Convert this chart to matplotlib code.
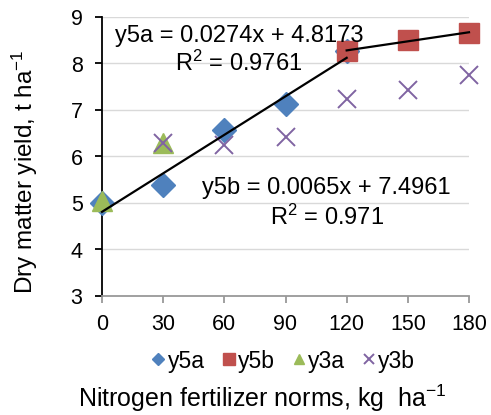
import matplotlib
matplotlib.use("Agg")
import matplotlib.pyplot as plt
import numpy as np

plt.rcParams['font.family'] = ['Liberation Sans', 'DejaVu Sans']
plt.rcParams['mathtext.fontset'] = 'custom'
plt.rcParams['mathtext.rm'] = 'Liberation Sans'
plt.rcParams['mathtext.it'] = 'Liberation Sans'
plt.rcParams['mathtext.default'] = 'regular'

# Data
x_ticks = [0, 30, 60, 90, 120, 150, 180]
y5a_x = [0, 30, 60, 90, 120]
y5a_y = [5.00, 5.38, 6.56, 7.12, 8.27]
y5b_x = [120, 150, 180]
y5b_y = [8.27, 8.50, 8.66]
y3a_x = [0, 30]
y3a_y = [5.05, 6.29]
y3b_x = [30, 60, 90, 120, 150, 180]
y3b_y = [6.30, 6.25, 6.43, 7.24, 7.43, 7.76]
eq5a = "y5a = 0.0274x + 4.8173"
r5a = "R$^{2}$ = 0.9761"
eq5b = "y5b = 0.0065x + 7.4961"
r5b = "R$^{2}$ = 0.971"

fig = plt.figure(figsize=(4.91, 4.15), dpi=100)
ax = fig.add_axes([102/491, 1-296/415, (469-102)/491, (296-17)/415])

ax.set_xlim(0, 180)
ax.set_ylim(3, 9)
ax.set_xticks(x_ticks)
ax.set_yticks(range(3, 10))
ax.grid(axis='y', color='#d9d9d9', lw=1)
ax.set_axisbelow(True)
for s in ['top', 'right']:
    ax.spines[s].set_visible(False)
ax.spines['left'].set_color('black')
ax.spines['left'].set_linewidth(1.3)
ax.spines['bottom'].set_color('#999999')
ax.spines['bottom'].set_linewidth(1.3)
ax.tick_params(axis='y', direction='out', length=5, width=1.3, color='black', labelsize=15.5, pad=9)
ax.tick_params(axis='x', direction='out', length=5, width=1.3, color='#999999', labelsize=15.5, pad=8)

ms_kw = dict(linestyle='none', clip_on=False, zorder=3)
ax.plot(y5a_x, y5a_y, marker='D', color='#4F81BD', markersize=12, label='y5a', **ms_kw)
ax.plot(y5b_x, y5b_y, marker='s', color='#C0504D', markersize=15, label='y5b', **ms_kw)
ax.plot(y3a_x, y3a_y, marker='^', color='#9BBB59', markersize=14, label='y3a', **ms_kw)
ax.plot(y3b_x, y3b_y, marker='x', color='#8064A2', markersize=13, markeredgewidth=1.4, label='y3b', **ms_kw)

# trend lines
p1 = np.polyfit(y5a_x, y5a_y, 1)
xx1 = np.array([y5a_x[0], y5a_x[-1]])
ax.plot(xx1, np.polyval(p1, xx1), color='black', lw=1.6, zorder=4, clip_on=False)
p2 = np.polyfit(y5b_x, y5b_y, 1)
xx2 = np.array([y5b_x[0], y5b_x[-1]])
ax.plot(xx2, np.polyval(p2, xx2), color='black', lw=1.6, zorder=4, clip_on=False)

def px(xp, yp):
    return xp/491, 1-yp/415

fs_eq = 17
fig.text(*px(239, 36), eq5a, fontsize=fs_eq, ha='center', va='center')
fig.text(*px(239, 63), r5a, fontsize=fs_eq, ha='center', va='center')
fig.text(*px(326, 188), eq5b, fontsize=fs_eq, ha='center', va='center')
fig.text(*px(327, 217), r5b, fontsize=fs_eq, ha='center', va='center')

fig.text(*px(25, 172), "Dry matter yield, t ha$^{-1}$", fontsize=17.5, rotation=90,
         ha='center', va='center')
fig.text(*px(262, 407), "Nitrogen fertilizer norms, kg  ha$^{-1}$", fontsize=18,
         ha='center', va='baseline')

fig.legend(loc='center', bbox_to_anchor=px(284, 361), ncol=4, frameon=False,
           fontsize=16.5, handlelength=0.5, handletextpad=0.15, columnspacing=0.8,
           markerscale=0.55)

fig.savefig("out.png", dpi=100)
